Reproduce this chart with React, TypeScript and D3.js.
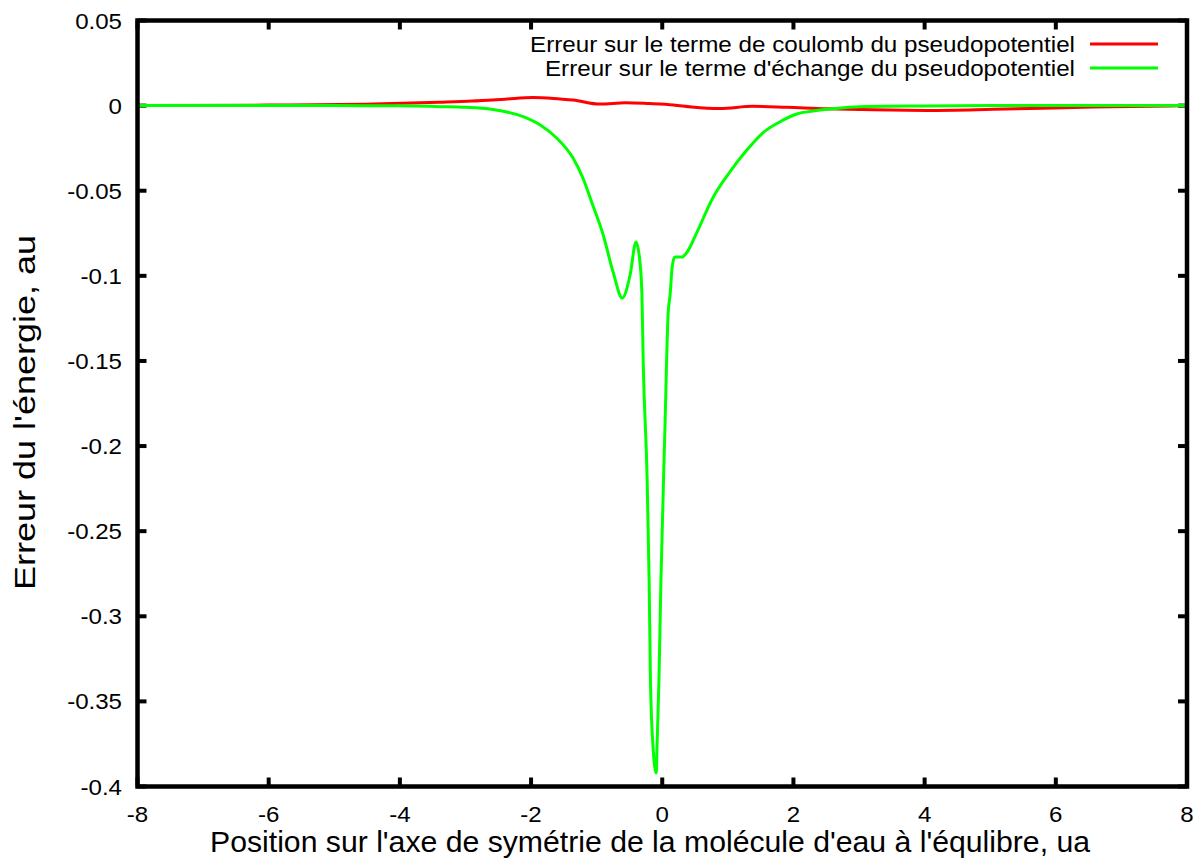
import React from "react";
import * as d3 from "d3";

const xTicks = [-8, -6, -4, -2, 0, 2, 4, 6, 8];
const yTicks = [0.05, 0, -0.05, -0.1, -0.15, -0.2, -0.25, -0.3, -0.35, -0.4];
const yTickLabels = ["0.05", "0", "-0.05", "-0.1", "-0.15", "-0.2", "-0.25", "-0.3", "-0.35", "-0.4"];

const coulombX = [-8, -6, -4.4, -3.4, -2.9, -2.4, -1.97, -1.56, -1.36, -0.95, -0.56, -0.2, 0.17, 0.45, 0.88, 1.38, 1.9, 2.51, 3.0, 4.03, 5.04, 6.57, 7.74, 8];
const coulombY = [0, 0.0003, 0.0009, 0.002, 0.0027, 0.0038, 0.0048, 0.0039, 0.0033, 0.0009, 0.0017, 0.0012, 0.0004, -0.0008, -0.0017, -0.0004, -0.001, -0.0019, -0.0023, -0.0028, -0.0022, -0.0008, -0.0002, 0];

const echangeX = [-8, -5, -4, -3.39, -3.0, -2.63, -2.12, -1.86, -1.61, -1.36, -1.21, -1.06, -0.9, -0.75, -0.61, -0.49, -0.4, -0.34, -0.31, -0.29, -0.23, -0.2, -0.18, -0.14, -0.09, -0.08, -0.05, -0.02, 0.04, 0.09, 0.12, 0.15, 0.19, 0.3, 0.38, 0.53, 0.77, 1.03, 1.29, 1.53, 1.79, 2.05, 2.3, 2.56, 3.01, 4, 5.04, 8];
const echangeY = [0, 0, -0.0001, -0.0006, -0.001, -0.002, -0.0065, -0.0114, -0.019, -0.0308, -0.0425, -0.0584, -0.076, -0.0977, -0.113, -0.0995, -0.0801, -0.0919, -0.111, -0.151, -0.22, -0.279, -0.337, -0.377, -0.392, -0.377, -0.337, -0.279, -0.191, -0.122, -0.111, -0.0954, -0.089, -0.089, -0.086, -0.0743, -0.0543, -0.039, -0.0261, -0.0161, -0.0096, -0.0049, -0.0032, -0.002, -0.0006, -0.0002, 0, 0];

const seriesNames = ["Erreur sur le terme de coulomb du pseudopotentiel", "Erreur sur le terme d'échange du pseudopotentiel"];
const seriesColors = ["#ff0000", "#00ff00"];
const xTitle = "Position sur l'axe de symétrie de la molécule d'eau à l'équlibre, ua";
const yTitle = "Erreur du l'énergie, au";

const W = 1199, H = 861;
const L = 137.5, R = 1187, T = 20.5, B = 786.5;
const FONT = "'Liberation Sans', Arial, sans-serif";

export default function App() {
  const x = d3.scaleLinear().domain([-8, 8]).range([L, R]);
  const y = d3.scaleLinear().domain([0.05, -0.4]).range([T, B]);
  const line = d3.line<[number, number]>().x(d => x(d[0])).y(d => y(d[1])).curve(d3.curveMonotoneX);
  const s1 = coulombX.map((v, i) => [v, coulombY[i]] as [number, number]);
  const s2 = echangeX.map((v, i) => [v, echangeY[i]] as [number, number]);
  const tickLen = 9;
  const legendLens = [545, 530];
  return (
    <svg width={W} height={H} style={{ position: "absolute", left: 0, top: 0, background: "#fff" }} fontFamily={FONT}>
      <rect x={0} y={0} width={W} height={H} fill="#fff" />
      {xTicks.map(t => (
        <g key={"xt" + t}>
          <line x1={x(t)} x2={x(t)} y1={B} y2={B - tickLen} stroke="#000" strokeWidth={4} />
          <line x1={x(t)} x2={x(t)} y1={T} y2={T + tickLen} stroke="#000" strokeWidth={4} />
          <g transform={`translate(${x(t)},822) scale(1.07,1)`}>
            <text x={0} y={0} textAnchor="middle" fontSize={22.5} fill="#000">{t}</text>
          </g>
        </g>
      ))}
      {yTicks.map((t, i) => (
        <g key={"yt" + t}>
          <line x1={L} x2={L + tickLen} y1={y(t)} y2={y(t)} stroke="#000" strokeWidth={4} />
          <line x1={R} x2={R - tickLen} y1={y(t)} y2={y(t)} stroke="#000" strokeWidth={4} />
          <g transform={`translate(122,${y(t) + 8}) scale(1.07,1)`}>
            <text x={0} y={0} textAnchor="end" fontSize={22.5} fill="#000">{yTickLabels[i]}</text>
          </g>
        </g>
      ))}
      <path d={line(s1) || ""} fill="none" stroke={seriesColors[0]} strokeWidth={3} strokeLinejoin="round" />
      <path d={line(s2) || ""} fill="none" stroke={seriesColors[1]} strokeWidth={3} strokeLinejoin="round" />
      <rect x={L} y={T} width={R - L} height={B - T} fill="none" stroke="#000" strokeWidth={4.5} />
      {seriesNames.map((n, i) => (
        <g key={n}>
          <text x={1075 - legendLens[i]} y={52 + i * 24} textLength={legendLens[i]} lengthAdjust="spacingAndGlyphs" fontSize={22.5} fill="#000">{n}</text>
          <line x1={1090} x2={1158} y1={44 + i * 24} y2={44 + i * 24} stroke={seriesColors[i]} strokeWidth={3} />
        </g>
      ))}
      <text x={210} y={852} textLength={880} lengthAdjust="spacingAndGlyphs" fontSize={29} fill="#000">{xTitle}</text>
      <text transform={`translate(35,590) rotate(-90)`} x={0} y={0} textLength={355} lengthAdjust="spacingAndGlyphs" fontSize={29} fill="#000">{yTitle}</text>
    </svg>
  );
}
